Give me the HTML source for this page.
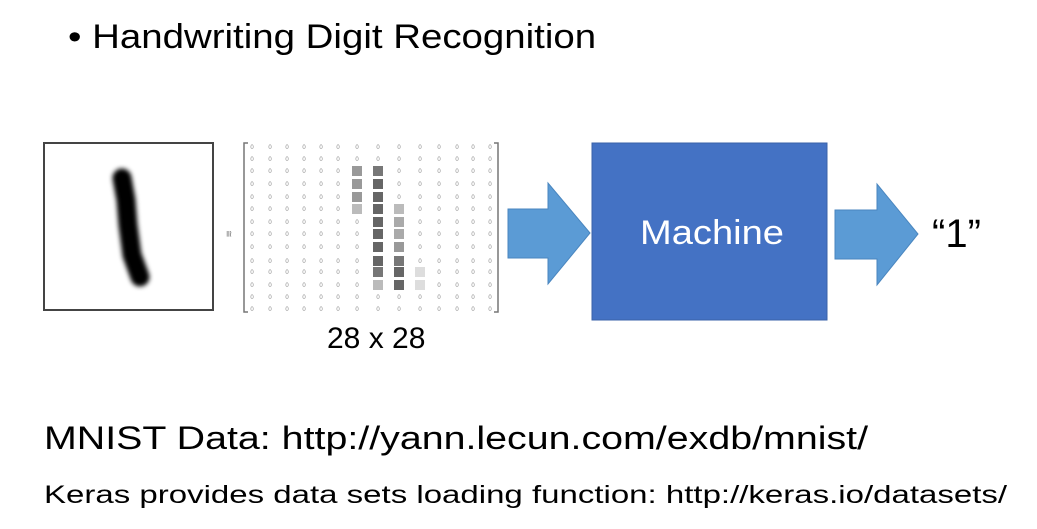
<!DOCTYPE html>
<html><head><style>
body{margin:0;width:1037px;height:529px;background:#fff;position:relative;overflow:hidden;font-family:"Liberation Sans","DejaVu Sans",sans-serif;color:#000}
.t{position:absolute;white-space:nowrap;transform-origin:0 0}
</style></head><body>
<div class="t" style="left:68px;top:18px;font-size:34px;transform:scaleX(1.13)">• Handwriting Digit Recognition</div>
<svg width="1037" height="529" style="position:absolute;left:0;top:0">
<defs><filter id="b" x="-100%" y="-20%" width="300%" height="140%"><feGaussianBlur stdDeviation="2.5"/></filter></defs>
<rect x="44" y="143" width="169" height="167" fill="#fff" stroke="#444" stroke-width="2"/>
<path d="M122 178 L126 200 L128 225 L132 255 L140 277" stroke="#000" stroke-width="19" fill="none" stroke-linecap="round" filter="url(#b)"/>
<text x="230" y="234" font-size="9" fill="#777" transform="rotate(90 230 230)">≅</text>
<path d="M248 143 h-4 v169 h4 M494 143 h4 v169 h-4" stroke="#777" stroke-width="1.5" fill="none"/>
<g id="cells" fill="#666"></g>
<g font-size="6" fill="#888" font-family="Liberation Sans" text-anchor="middle" id="m"></g>
<polygon points="508,209 548,209 548,183 590,233 548,284 548,258 508,258" fill="#5B9BD5" stroke="#4a86bf"/>
<rect x="592" y="143" width="235" height="177" fill="#4472C4" stroke="#3a62a8"/>
<polygon points="835,210 877,210 877,184 918,234 877,285 877,259 835,259" fill="#5B9BD5" stroke="#4a86bf"/>
</svg>
<div class="t" style="left:640px;top:214px;font-size:34px;color:#fff;transform:scaleX(1.12)">Machine</div>
<div class="t" style="left:932px;top:212px;font-size:40px">“1”</div>
<div class="t" style="left:327px;top:322px;font-size:30px">28 x 28</div>
<div class="t" style="left:44px;top:420px;font-size:32px;transform:scaleX(1.23)">MNIST Data: http://yann.lecun.com/exdb/mnist/</div>
<div class="t" style="left:44px;top:481px;font-size:25px;transform:scaleX(1.32)">Keras provides data sets loading function: http://keras.io/datasets/</div>
<script>
var xs=[252,270,287,304,321,338,357,378,399,420,439,457,473,490];
var ys=[147,159,171,184,197,209,222,234,247,261,272,285,297,309];
var g={'2,6':'#999','2,7':'#777','3,6':'#999','3,7':'#666','4,6':'#999','4,7':'#666','5,6':'#bbb','5,7':'#666','5,8':'#bbb','6,7':'#666','6,8':'#aaa','7,7':'#666','7,8':'#aaa','8,7':'#666','8,8':'#999','9,7':'#666','9,8':'#777','10,7':'#777','10,8':'#666','10,9':'#ddd','11,7':'#bbb','11,8':'#666','11,9':'#ddd'};
var s='',c='';
for(var r=0;r<14;r++)for(var k=0;k<14;k++){var key=r+','+k;
if(g[key])c+='<rect x="'+(xs[k]-5)+'" y="'+(ys[r]-5)+'" width="10" height="10" fill="'+g[key]+'"/>';
else s+='<text x="'+xs[k]+'" y="'+(ys[r]+2)+'">0</text>';}
document.getElementById('cells').innerHTML=c;document.getElementById('m').innerHTML=s;
</script>
</body></html>
